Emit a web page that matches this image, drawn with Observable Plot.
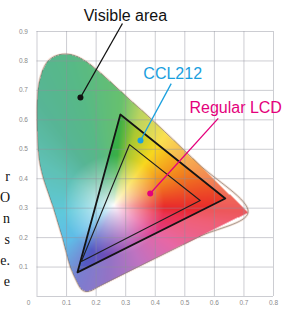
<!DOCTYPE html>
<html><head><meta charset="utf-8">
<script src="https://cdn.jsdelivr.net/npm/d3@7"></script>
<script src="https://cdn.jsdelivr.net/npm/@observablehq/plot@0.6"></script>
<style>
body{margin:0;background:#fff}
#wrap{position:relative;width:293px;height:316px;overflow:hidden}
#margin-text{position:absolute;left:0;top:166px;width:10px;font:14px "Liberation Serif","DejaVu Serif",serif;line-height:21px;text-align:right;color:#111;white-space:nowrap}
</style></head>
<body><div id="wrap"><div id="margin-text"></div></div>
<script>
// grid and tick values
const gridX = [0, 0.1, 0.2, 0.3, 0.4, 0.5, 0.6, 0.7, 0.8];
const gridY = [0, 0.1, 0.2, 0.3, 0.4, 0.5, 0.6, 0.7, 0.8, 0.9];
const tickX = [0.1, 0.2, 0.3, 0.4, 0.5, 0.6, 0.7, 0.8];
const tickY = [0.1, 0.2, 0.3, 0.4, 0.5, 0.6, 0.7, 0.8, 0.9];
const cornerLabel = ["0"];

// visible area outline (chromaticity x, y)
const locusX = [0.714, 0.55, 0.40, 0.25, 0.205, 0.183, 0.165, 0.152, 0.142, 0.130, 0.113, 0.099, 0.086, 0.071, 0.056, 0.039, 0.022, 0.010, 0.004, 0.001, 0.001, 0.006, 0.018, 0.035, 0.058, 0.085, 0.112, 0.140, 0.170, 0.204, 0.260, 0.316, 0.373, 0.544];
const locusY = [0.285, 0.204, 0.130, 0.055, 0.032, 0.020, 0.017, 0.023, 0.036, 0.060, 0.100, 0.150, 0.200, 0.250, 0.300, 0.350, 0.400, 0.450, 0.500, 0.580, 0.660, 0.720, 0.765, 0.797, 0.815, 0.823, 0.822, 0.813, 0.795, 0.768, 0.718, 0.666, 0.615, 0.452];

// gamuts: green, blue, red primaries
const cclX = [0.282, 0.137, 0.637];
const cclY = [0.618, 0.082, 0.333];
const lcdX = [0.313, 0.150, 0.552];
const lcdY = [0.516, 0.119, 0.326];

// annotations
const labels = ["Visible area", "CCL212", "Regular LCD"];
const labelX = [0.299, 0.459, 0.672];
const labelY = [0.934, 0.737, 0.622];
const dotX = [0.147, 0.350, 0.383];
const dotY = [0.676, 0.530, 0.350];
const endX = [0.289, 0.454, 0.613];
const endY = [0.927, 0.723, 0.605];
const labelColors = ["#111111", "#1aa0de", "#e4007c"];

const marginText = ["r", "O", "n", "s", "e.", "e"];

// --- colouring of the diagram (style) ---
const white = [0.26, 0.31];
const hueStops = [
  [4, "rgb(235,60,40)"], [25, "rgb(242,130,30)"], [54, "rgb(248,215,30)"],
  [74, "rgb(170,200,50)"], [86, "rgb(60,175,70)"], [106, "rgb(40,165,100)"],
  [126, "rgb(40,160,120)"], [149, "rgb(50,175,160)"], [189, "rgb(50,185,210)"],
  [219, "rgb(50,170,225)"], [244, "rgb(85,90,195)"], [267, "rgb(120,75,180)"],
  [295, "rgb(175,75,175)"], [326, "rgb(225,60,140)"], [350, "rgb(235,50,80)"],
  [357, "rgb(232,40,45)"]
];
const stops = [[hueStops[hueStops.length-1][0]-360, hueStops[hueStops.length-1][1]], ...hueStops, [hueStops[0][0]+360, hueStops[0][1]]];
function hueColor(a) {
  for (let i = 0; i < stops.length - 1; ++i) {
    const [a0, c0] = stops[i], [a1, c1] = stops[i+1];
    if (a >= a0 && a <= a1) return d3.interpolateRgb(c0, c1)((a - a0) / (a1 - a0));
  }
  return stops[1][1];
}
const locusPoly = locusX.map((x, i) => [x, locusY[i]]);
const cclPoly = cclX.map((x, i) => [x, cclY[i]]);
function chroma(x, y) {
  if (!d3.polygonContains(locusPoly, [x, y])) return null;
  const dx = x - white[0], dy = y - white[1];
  let a = Math.atan2(dy, dx) * 180 / Math.PI; if (a < 0) a += 360;
  const d = Math.hypot(dx, dy);
  let c = d3.interpolateRgb("#ffffff", hueColor(a))(Math.min(1, Math.pow(d / 0.17, 0.8)));
  if (!d3.polygonContains(cclPoly, [x, y])) c = d3.interpolateRgb(c, "#ffffff")(0.22);
  return c;
}

const idx = (arr) => arr.map((_, i) => i);

const chart = Plot.plot({
  width: 293, height: 316,
  marginLeft: 36.5, marginRight: 20, marginTop: 31, marginBottom: 20,
  x: {domain: [0, 0.8]},
  y: {domain: [0, 0.9]},
  color: {type: "identity"},
  style: {fontFamily: "'Liberation Sans', Arial, sans-serif", background: "#fff"},
  marks: [
    Plot.line(idx(locusX), {x: locusX, y: locusY, curve: "catmull-rom-closed", stroke: "#f4e2d8", strokeWidth: 2.6}),
    Plot.raster({x1: 0, x2: 0.8, y1: 0, y2: 0.9, fill: chroma, pixelSize: 1}),
    Plot.line(idx(locusX), {x: locusX, y: locusY, curve: "catmull-rom-closed", stroke: "#6e6258", strokeWidth: 0.7, strokeOpacity: 0.8}),
    Plot.ruleX(gridX, {stroke: "#8e919c", strokeOpacity: 0.45}),
    Plot.ruleY(gridY, {stroke: "#8e919c", strokeOpacity: 0.45}),
    Plot.line(idx(cclX), {x: cclX, y: cclY, curve: "linear-closed", stroke: "#141414", strokeWidth: 1.8}),
    Plot.line(idx(lcdX), {x: lcdX, y: lcdY, curve: "linear-closed", stroke: "#1e1e1e", strokeWidth: 1.1}),
    Plot.link(idx(dotX), {x1: dotX, y1: dotY, x2: endX, y2: endY, stroke: labelColors, strokeWidth: 1.3}),
    Plot.dot(idx(dotX), {x: dotX, y: dotY, r: 3, fill: labelColors}),
    Plot.text(labels, {x: labelX, y: labelY, text: d => d, fill: labelColors, fontSize: 16, lineAnchor: "bottom", textAnchor: "middle"}),
    Plot.axisX(tickX, {tickSize: 0, tickPadding: 4, fontSize: 6.5, fill: "#8a8a8a", tickFormat: d => d.toFixed(1), label: null}),
    Plot.axisY(tickY, {tickSize: 0, tickPadding: 9, fontSize: 6.5, fill: "#8a8a8a", tickFormat: d => d.toFixed(1), label: null}),
    Plot.text(cornerLabel, {x: 0, y: 0, text: d => d, dx: -8.5, dy: 6, fontSize: 6.5, fill: "#8a8a8a"})
  ]
});
document.getElementById("wrap").prepend(chart);
document.getElementById("margin-text").innerHTML = marginText.map(t => `<div>${t}</div>`).join("");
</script>
</body></html>
